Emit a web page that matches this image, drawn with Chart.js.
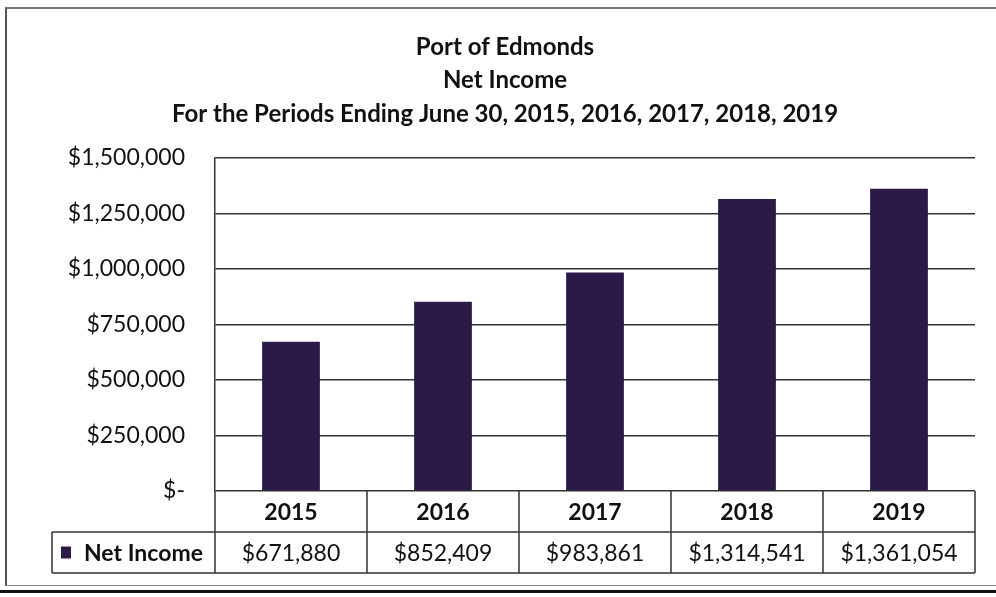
<!DOCTYPE html>
<html lang="en">
<head>
    <meta charset="UTF-8">
    <title>Port of Edmonds Net Income</title>
    <style>
        body { margin: 0; background: #fff; }
        #wrap { position: relative; width: 996px; height: 597px; }
        #frame { position: absolute; left: 5px; top: 7px; width: 991px; height: 576px;
                 border-top: 2px solid #777; border-left: 2px solid #555; border-bottom: 1px solid #888; pointer-events: none; }
        #base { position: absolute; left: 0; top: 590px; width: 996px; height: 3px; background: #111; }
    </style>
</head>
<body>
<div id="wrap">
    <canvas id="myChart" width="996" height="597"></canvas>
    <div id="frame"></div>
    <div id="base"></div>
</div>
<script src="https://cdn.jsdelivr.net/npm/chart.js"></script>
<script>
    // datos
    const years = ['2015', '2016', '2017', '2018', '2019'];
    const netIncome = [671880, 852409, 983861, 1314541, 1361054];
    const seriesName = 'Net Income';
    const titleLines = ['Port of Edmonds', 'Net Income', 'For the Periods Ending June 30, 2015, 2016, 2017, 2018, 2019'];

    const barColor = '#2b1947';
    const lineColor = '#333';
    const fontFam = 'Lato, "Open Sans", sans-serif';

    const money = v => v === 0 ? '$-' : '$' + v.toLocaleString('en-US');

    // tabla de datos debajo del gráfico
    const dataTable = {
        id: 'dataTable',
        afterDraw(chart) {
            const ctx = chart.ctx;
            const area = chart.chartArea;
            const x = chart.scales.x;
            const colW = (area.right - area.left) / years.length;
            const rowH = 41;
            const top = area.bottom;
            const legendLeft = 52;

            ctx.save();
            ctx.strokeStyle = lineColor;
            ctx.lineWidth = 1.5;
            ctx.beginPath();
            ctx.moveTo(legendLeft, top + rowH); ctx.lineTo(area.right, top + rowH);
            ctx.moveTo(legendLeft, top + 2 * rowH); ctx.lineTo(area.right, top + 2 * rowH);
            ctx.moveTo(legendLeft, top + rowH); ctx.lineTo(legendLeft, top + 2 * rowH);
            for (let i = 0; i <= years.length; i++) {
                const bx = area.left + i * colW;
                ctx.moveTo(bx, top); ctx.lineTo(bx, top + 2 * rowH);
            }
            ctx.stroke();

            ctx.fillStyle = '#111';
            ctx.textAlign = 'center';
            ctx.textBaseline = 'middle';
            years.forEach((y, i) => {
                const cx = x.getPixelForValue(i);
                ctx.font = 'bold 23px ' + fontFam;
                ctx.fillText(y, cx, top + rowH / 2 + 1);
                ctx.font = '23px ' + fontFam;
                ctx.fillText(money(netIncome[i]), cx, top + rowH * 1.5 + 1);
            });

            // leyenda
            ctx.fillStyle = barColor;
            ctx.fillRect(61, top + rowH * 1.5 - 6, 10, 12);
            ctx.fillStyle = '#111';
            ctx.textAlign = 'left';
            ctx.font = 'bold 23px ' + fontFam;
            ctx.fillText(seriesName, 84, top + rowH * 1.5 + 1);
            ctx.restore();
        }
    };

    const ctx = document.getElementById('myChart').getContext('2d');
    new Chart(ctx, {
        type: 'bar',
        data: {
            labels: years,
            datasets: [{
                label: seriesName,
                data: netIncome,
                backgroundColor: barColor,
                barPercentage: 0.38,
                categoryPercentage: 1
            }]
        },
        options: {
            responsive: false,
            animation: false,
            layout: { padding: { left: 35, right: 21, top: 0, bottom: 106 } },
            plugins: {
                legend: { display: false },
                tooltip: { enabled: false },
                title: {
                    display: true,
                    text: titleLines,
                    color: '#111',
                    font: { family: fontFam, size: 24, weight: 'bold', lineHeight: 1.4 },
                    padding: { top: 30, bottom: 27 }
                }
            },
            scales: {
                x: { display: false },
                y: {
                    min: 0,
                    max: 1500000,
                    afterFit: scale => { scale.width = 180; },
                    ticks: {
                        stepSize: 250000,
                        padding: 30,
                        color: '#111',
                        font: { family: fontFam, size: 23 },
                        callback: v => money(v)
                    },
                    grid: { color: lineColor, lineWidth: 1.5, drawTicks: false },
                    border: { display: true, color: lineColor, width: 1.5 }
                }
            }
        },
        plugins: [dataTable]
    });
</script>
</body>
</html>
